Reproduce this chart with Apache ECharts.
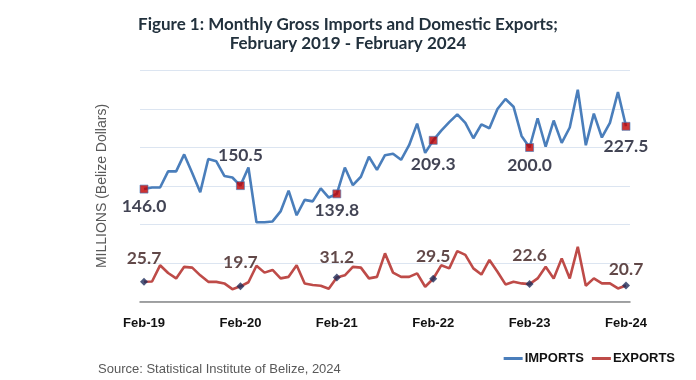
<!DOCTYPE html>
<html>
<head>
<meta charset="utf-8">
<script src="https://cdn.jsdelivr.net/npm/echarts@6/dist/echarts.min.js"></script>
<style>
html,body{margin:0;padding:0;background:#fff;}
#chart{width:696px;height:380px;}
</style>
</head>
<body>
<div id="chart"></div>
<script>
const categories = [
 'Feb-19','Mar-19','Apr-19','May-19','Jun-19','Jul-19','Aug-19','Sep-19','Oct-19','Nov-19','Dec-19','Jan-20',
 'Feb-20','Mar-20','Apr-20','May-20','Jun-20','Jul-20','Aug-20','Sep-20','Oct-20','Nov-20','Dec-20','Jan-21',
 'Feb-21','Mar-21','Apr-21','May-21','Jun-21','Jul-21','Aug-21','Sep-21','Oct-21','Nov-21','Dec-21','Jan-22',
 'Feb-22','Mar-22','Apr-22','May-22','Jun-22','Jul-22','Aug-22','Sep-22','Oct-22','Nov-22','Dec-22','Jan-23',
 'Feb-23','Mar-23','Apr-23','May-23','Jun-23','Jul-23','Aug-23','Sep-23','Oct-23','Nov-23','Dec-23','Jan-24',
 'Feb-24'
];
const imports = [
 146.0,148,148,169,169,191,167,142,185,182,163,161,
 150.5,174,103,103,104,117,144,112,132,130,147,135,
 139.8,174,151,162,188,171,190,192,184,203,231,193,
 209.3,222,233,243,232,212,230,225,250,263,253,215,
 200.0,238,201,235,206,226,275,203,244,213,232,272,
 227.5
];
const exportsData = [
 25.7,26,47,37,30,45,44,34,25.5,25.5,23.5,16,
 19.7,25,46.5,37.5,41,30,32,47,23.5,21.5,20.5,16.5,
 31.2,34,45,44,30,32,62.5,37.5,32,32,36.6,19.2,
 29.5,47,43,65.5,60.5,43,35,54,38.7,22.2,25.6,23.5,
 22.6,30,45,30,56,30,71,20.5,30,23.5,23.5,17,
 20.7
];
const yTicks = {min:0, max:300, interval:50};
const highlightIdx = [0,12,24,36,48,60];

// label placement (style, not data)
const impLabelDy = [17,-30,17,24,18,20];
const expLabelDy = [-23,-24,-20,-22,-29,-16];

const impMarks = highlightIdx.map((i,k)=>({value:[i, imports[i]], label:{offset:[0, impLabelDy[k]]}}));
const expMarks = highlightIdx.map((i,k)=>({value:[i, exportsData[i]], label:{offset:[0, expLabelDy[k]]}}));

const chart = echarts.init(document.getElementById('chart'), null, {renderer:'canvas'});
chart.setOption({
  animation:false,
  backgroundColor:'#ffffff',
  title:{
    text:'Figure 1: Monthly Gross Imports and Domestic Exports;\nFebruary 2019 - February 2024',
    left:'center', top:10,
    textStyle:{fontFamily:'Lato', fontWeight:'bold', fontSize:17, color:'#22313d', lineHeight:19}
  },
  grid:{left:140, right:66, top:70.5, bottom:78.5},
  legend:{
    right:16, top:347,
    itemWidth:19, itemHeight:3, itemGap:8,
    icon:'rect',
    textStyle:{fontFamily:'Liberation Sans', fontWeight:'bold', fontSize:13, color:'#111', padding:[0,0,0,-3]},
    data:['IMPORTS','EXPORTS']
  },
  graphic:[{
    type:'text', left:98, top:363,
    style:{text:'Source: Statistical Institute of Belize, 2024', font:'13px "Liberation Sans"', fill:'#595959'}
  }],
  xAxis:{
    type:'category', data:categories, boundaryGap:true,
    axisLine:{lineStyle:{color:'#868686', width:1.5}},
    axisTick:{interval:11, length:5, lineStyle:{color:'#868686', width:1.5}},
    axisLabel:{interval:11, margin:15, fontFamily:'Liberation Sans', fontWeight:'bold', fontSize:13, color:'#111'},
    splitLine:{show:false}
  },
  yAxis:{
    type:'value', min:yTicks.min, max:yTicks.max, interval:yTicks.interval,
    name:'MILLIONS (Belize Dollars)', nameLocation:'middle', nameRotate:90, nameGap:31,
    nameTextStyle:{fontFamily:'Liberation Sans', fontSize:14, color:'#595959'},
    axisLine:{show:false}, axisTick:{show:false}, axisLabel:{show:false},
    splitLine:{lineStyle:{color:'#DCE5F1', width:1}}
  },
  series:[
    {name:'IMPORTS', type:'line', data:imports, symbol:'none', color:'#4A7EBB',
     lineStyle:{width:2.6, color:'#4A7EBB'}, z:2},
    {name:'EXPORTS', type:'line', data:exportsData, symbol:'none', color:'#BE4B48',
     lineStyle:{width:2.6, color:'#BE4B48'}, z:2},
    {name:'impMarks', type:'scatter', data:impMarks, symbol:'rect', symbolSize:8,
     itemStyle:{color:'#C00000', borderColor:'#4A7EBB', borderWidth:0.8}, z:3,
     label:{show:true, position:'inside', formatter:p=>p.value[1].toFixed(1),
       fontFamily:'Lato', fontWeight:'bold', fontSize:17.5, color:'#121428'}},
    {name:'expMarks', type:'scatter', data:expMarks, symbol:'diamond', symbolSize:8,
     itemStyle:{color:'#1F2D5A'}, z:3,
     label:{show:true, position:'inside', formatter:p=>p.value[1].toFixed(1),
       fontFamily:'Lato', fontWeight:'bold', fontSize:17.5, color:'#3A1A1A'}}
  ]
});
</script>
</body>
</html>
